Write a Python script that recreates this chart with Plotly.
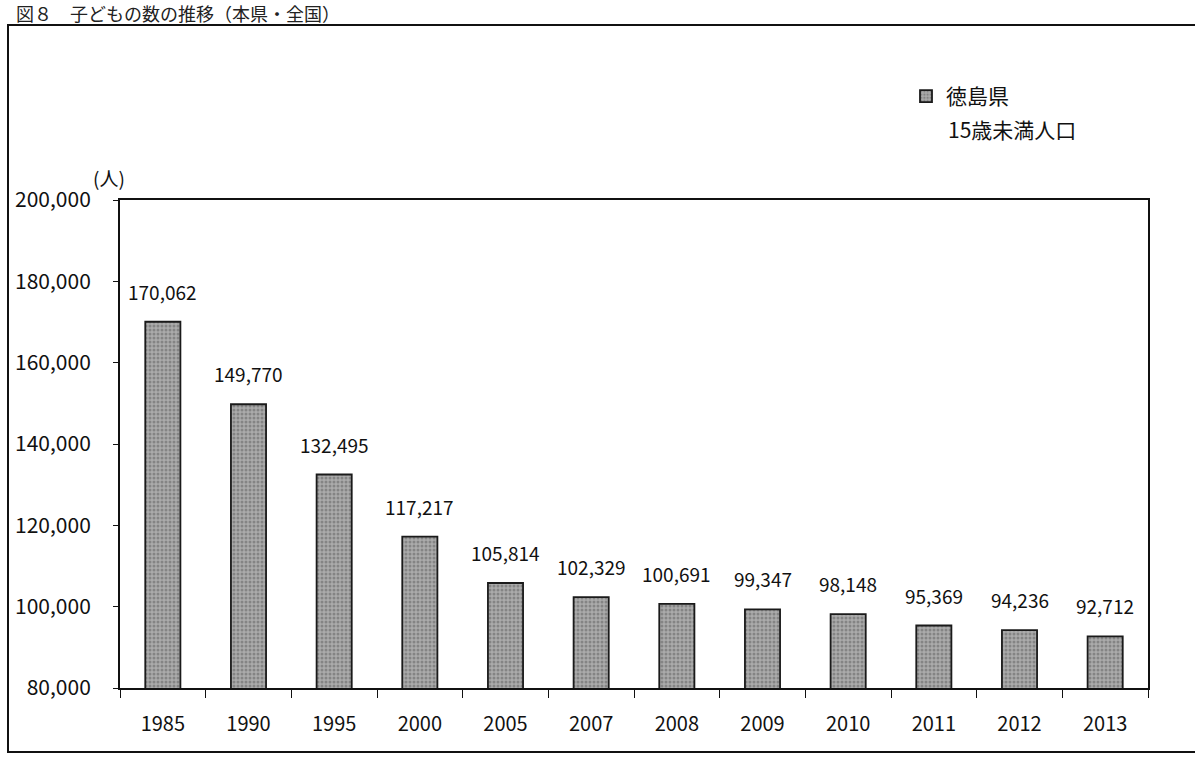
import plotly.graph_objects as go

years = ["1985", "1990", "1995", "2000", "2005", "2007", "2008", "2009", "2010", "2011", "2012", "2013"]
children = [170062, 149770, 132495, 117217, 105814, 102329, 100691, 99347, 98148, 95369, 94236, 92712]
series_name = "徳島県"
series_subtitle = "15歳未満人口"
title_text = "図８　子どもの数の推移（本県・全国）"
unit_text = "(人)"

FONT = "Noto Sans CJK JP"

L, R, T, B = 120, 47, 200, 72
W, H = 1195, 760
pw, ph = W - L - R, H - T - B

def px(x):
    return (x - L) / pw

def py(y):
    return (H - B - y) / ph

fig = go.Figure()
fig.add_trace(go.Bar(
    x=years, y=children, name=series_name,
    marker=dict(color="#9c9c9c", line=dict(color="#1a1a1a", width=1.8),
                pattern=dict(shape=".", fgcolor="#5e5e5e", bgcolor="#ababab", size=4, solidity=0.45)),
    width=0.41,
    showlegend=True,
))

annotations = [
    dict(x=i, y=v, xref="x", yref="y", text=f"{v:,}", showarrow=False,
         yanchor="bottom", yshift=15, font=dict(size=19, family=FONT, color="#111111"))
    for i, v in enumerate(children)
]
annotations += [
    dict(text=unit_text, xref="paper", yref="paper", x=px(109), y=py(178),
         xanchor="center", yanchor="middle", showarrow=False,
         font=dict(size=19, family=FONT)),
    dict(text=title_text, xref="paper", yref="paper", x=px(14), y=py(13),
         xanchor="left", yanchor="middle", showarrow=False,
         font=dict(size=18, family=FONT, color="#222222")),
    dict(text=series_subtitle, xref="paper", yref="paper", x=px(946), y=py(129),
         xanchor="left", yanchor="middle", showarrow=False,
         font=dict(size=21, family=FONT, color="#111111")),
]

fig.update_layout(
    width=W, height=H,
    margin=dict(l=L, r=R, t=T, b=B),
    paper_bgcolor="white", plot_bgcolor="white",
    font=dict(family=FONT, color="#111111"),
    legend=dict(x=px(906), y=py(76), xanchor="left", yanchor="top",
                font=dict(size=21, family=FONT, color="#111111"),
                bgcolor="rgba(0,0,0,0)", itemwidth=30),
    xaxis=dict(type="category", categoryorder="array", categoryarray=years,
               range=[-0.5, len(years) - 0.5], autorange=False,
               showline=True, linecolor="#111111", linewidth=2,
               ticks="outside", tickson="boundaries", ticklen=8, tickcolor="#111111",
               tickfont=dict(size=20, family=FONT), ticklabelstandoff=17, tickangle=0,
               mirror=True, showgrid=False),
    yaxis=dict(range=[80000, 200000], autorange=False, dtick=20000, tickformat=",",
               showline=True, linecolor="#111111", linewidth=2, mirror=True,
               ticks="outside", ticklen=5, tickcolor="#111111",
               tickfont=dict(size=21, family=FONT), ticklabelstandoff=18,
               showgrid=False, zeroline=False),
    shapes=[dict(type="rect", xref="paper", yref="paper",
                 x0=px(8), x1=px(1205), y0=py(752), y1=py(25),
                 line=dict(color="#111111", width=2), fillcolor="rgba(0,0,0,0)")],
    annotations=annotations,
)

fig.write_html("out.html", config={"displayModeBar": False},
               post_script="document.body.style.margin='0px';")
